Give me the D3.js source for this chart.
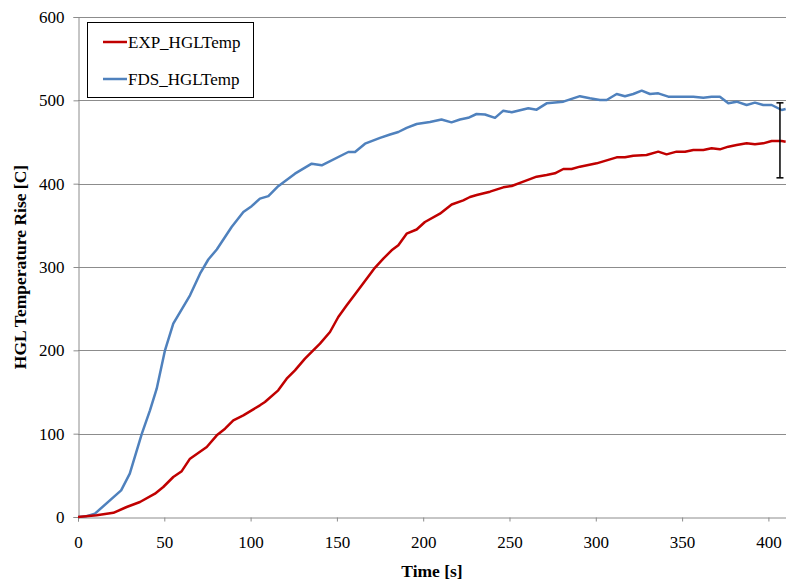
<!DOCTYPE html>
<html>
<head>
<meta charset="utf-8">
<script src="https://cdn.jsdelivr.net/npm/d3@7"></script>
<style>
  html, body { margin: 0; padding: 0; background: #fff; }
  svg { display: block; }
  text { font-family: "Liberation Serif", "Times New Roman", serif; fill: #000; }
</style>
</head>
<body>
<svg id="chart" width="786" height="581"></svg>
<script>
// ---- data ----
const xTicks = [0, 50, 100, 150, 200, 250, 300, 350, 400];
const yTicks = [0, 100, 200, 300, 400, 500, 600];
const seriesNames = ["EXP_HGLTemp", "FDS_HGLTemp"];

const expTime = [0, 10.8, 20.5, 28.2, 35.9, 44.6, 49.4, 55.2, 60.1, 64.9, 74.6, 80.4, 85.2, 90, 95.8, 100.6, 105.4, 108.3, 116, 120.9, 125.7, 131.5, 140.2, 146, 150.8, 155.7, 161.5, 172, 176.9, 181.7, 185.6, 190.4, 196.2, 201, 209.7, 216.5, 223.2, 227.1, 231, 238.7, 246.4, 251.3, 258, 265.7, 271.5, 276.3, 281.2, 286, 290.8, 300.5, 312.1, 316.9, 321.7, 329.4, 336.2, 341, 346.8, 351.7, 356.5, 362.3, 367.1, 371.9, 376.8, 381.6, 387.4, 392.2, 397, 401.9, 407.7, 410];
const expTemp = [0, 2, 5, 12, 18, 28, 36, 48, 55, 70, 84, 98, 106, 116, 122, 128, 134, 138, 152, 166, 176, 190, 208, 222, 240, 254, 270, 299, 310, 320, 326, 340, 345, 354, 364, 375, 380, 384, 386.4, 390.4, 395.6, 397.2, 402.4, 408.4, 410.4, 412.4, 417.6, 417.6, 420.4, 424.4, 431.6, 431.6, 433.6, 434.4, 438.4, 435.2, 438.4, 438.4, 440.4, 440.4, 442.4, 441.2, 444.4, 446.4, 448.4, 447.2, 448.4, 451.2, 451.2, 450.4];

const fdsTime = [0, 5, 9.8, 25, 30, 37, 41.7, 45.6, 50.4, 55.2, 64.9, 70.7, 75.5, 80.4, 89, 95.8, 100.6, 105.4, 110.3, 116, 125.7, 135.4, 141.2, 156.6, 160.5, 166.3, 175, 180.8, 185.6, 190.4, 196.2, 203.9, 210.6, 216.4, 221.3, 226.1, 230.9, 235.8, 241.6, 246.4, 251.3, 256.1, 260.9, 265.7, 271.5, 281.2, 290.8, 296.6, 302.4, 306.3, 312.1, 316.9, 321.7, 326.6, 331.4, 336.2, 342, 356.5, 362.3, 367.1, 371.9, 376.8, 381.6, 387.4, 392.2, 397, 401.9, 407.7, 410];
const fdsTemp = [0, 1, 4, 32, 52, 100, 128, 154, 200, 232, 266, 292, 309, 321, 348, 366, 373, 382, 385, 397, 412, 424, 422, 438, 438, 448, 455, 459, 462, 467, 471.6, 474, 477, 473.6, 477, 479, 483.6, 483, 479, 487.6, 485.6, 488, 490.4, 488.8, 496.4, 498.4, 505, 502.4, 500.4, 500.4, 507.6, 505, 507.6, 511.6, 507.6, 508.4, 504.4, 504.4, 503.2, 504.4, 504.4, 496.4, 498.4, 494.4, 497.2, 494.4, 494.4, 488.4, 489.6];

// error bar on the experimental series
const errTime = [406.7];
const errLow = [407];
const errHigh = [497];

(function draw() {
  const mLeft = 78, mRight = 786, mTop = 17, mBottom = 517;
  const colors = ["#C00000", "#4F81BD"];

  const svg = d3.select("#chart");
  const x = d3.scaleLinear().domain([0, 410.2]).range([mLeft, mRight]);
  const y = d3.scaleLinear().domain([0, 600]).range([mBottom, mTop]);

  // gridlines
  svg.append("g")
    .selectAll("line")
    .data(yTicks.filter(d => d > 0))
    .join("line")
    .attr("x1", mLeft).attr("x2", mRight)
    .attr("y1", d => Math.round(y(d)) + 0.5).attr("y2", d => Math.round(y(d)) + 0.5)
    .attr("stroke", "#8c8c8c").attr("stroke-width", 1);

  // y axis
  const yAxis = svg.append("g")
    .attr("transform", `translate(${mLeft + 0.5},0)`)
    .call(d3.axisLeft(y).tickValues(yTicks).tickSize(5).tickPadding(9).tickFormat(d3.format("d")));
  yAxis.select(".domain").attr("stroke", "#8c8c8c");
  yAxis.selectAll(".tick line").attr("stroke", "#8c8c8c");
  yAxis.selectAll("text").attr("font-size", 17).attr("fill", "#000")
    .style("font-family", '"Liberation Serif", serif');

  // x axis
  const xAxis = svg.append("g")
    .attr("transform", `translate(0,${mBottom + 0.5})`)
    .call(d3.axisBottom(x).tickValues(xTicks).tickSize(4).tickPadding(14).tickFormat(d3.format("d")));
  xAxis.select(".domain").attr("stroke", "#8c8c8c");
  xAxis.selectAll(".tick line").attr("stroke", "#8c8c8c");
  xAxis.selectAll("text").attr("font-size", 17).attr("fill", "#000")
    .style("font-family", '"Liberation Serif", serif');

  // clip
  svg.append("clipPath").attr("id", "clip")
    .append("rect").attr("x", mLeft).attr("y", mTop - 5).attr("width", mRight - mLeft).attr("height", mBottom - mTop + 10);

  const line = d3.line().x(d => x(d[0])).y(d => y(d[1]));
  const expData = expTime.map((t, i) => [t, expTemp[i]]);
  const fdsData = fdsTime.map((t, i) => [t, fdsTemp[i]]);

  const plot = svg.append("g").attr("clip-path", "url(#clip)");
  plot.append("path").datum(fdsData)
    .attr("d", line).attr("fill", "none")
    .attr("stroke", colors[1]).attr("stroke-width", 2.5).attr("stroke-linejoin", "round");
  plot.append("path").datum(expData)
    .attr("d", line).attr("fill", "none")
    .attr("stroke", colors[0]).attr("stroke-width", 2.5).attr("stroke-linejoin", "round");

  // error bar
  const eb = svg.append("g");
  errTime.forEach((t, i) => {
    const ex = x(t);
    eb.append("line").attr("x1", ex).attr("x2", ex).attr("y1", y(errLow[i])).attr("y2", y(errHigh[i]))
      .attr("stroke", "#000").attr("stroke-width", 1.5);
    [errLow[i], errHigh[i]].forEach(v => {
      eb.append("line").attr("x1", ex - 3.5).attr("x2", ex + 3.5).attr("y1", y(v)).attr("y2", y(v))
        .attr("stroke", "#000").attr("stroke-width", 1.5);
    });
  });

  // axis titles
  svg.append("text")
    .attr("x", (mLeft + mRight) / 2).attr("y", 577)
    .attr("text-anchor", "middle").attr("font-size", 17.5).attr("font-weight", "bold")
    .text("Time [s]");
  svg.append("text")
    .attr("transform", `translate(26,${(mTop + mBottom) / 2}) rotate(-90)`)
    .attr("text-anchor", "middle").attr("font-size", 17.5).attr("font-weight", "bold")
    .text("HGL Temperature Rise [C]");

  // legend
  const lg = svg.append("g");
  lg.append("rect").attr("x", 87.5).attr("y", 22.5).attr("width", 166).attr("height", 75)
    .attr("fill", "#fff").attr("stroke", "#000").attr("stroke-width", 1);
  seriesNames.forEach((name, i) => {
    const ly = 42 + i * 37;
    lg.append("line").attr("x1", 103).attr("x2", 127).attr("y1", ly).attr("y2", ly)
      .attr("stroke", colors[i]).attr("stroke-width", 2.5);
    lg.append("text").attr("x", 128).attr("y", ly + 6).attr("font-size", 17).text(name);
  });
})();
</script>
</body>
</html>
